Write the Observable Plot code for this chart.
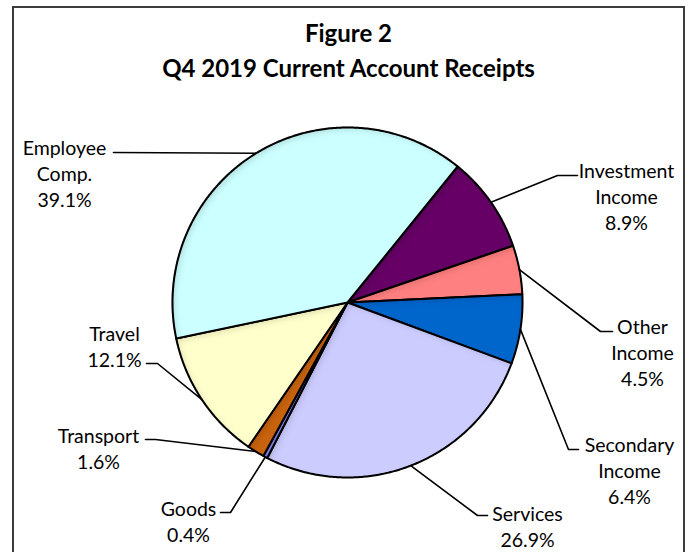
<!DOCTYPE html>
<html><head><meta charset="utf-8">
<script src="https://cdn.jsdelivr.net/npm/d3@7"></script>
<script src="https://cdn.jsdelivr.net/npm/@observablehq/plot@0.6"></script>
<style>
html,body{margin:0;padding:0;background:#fff;}
body{width:689px;height:552px;overflow:hidden;position:relative;font-family:Lato,"Open Sans",sans-serif;}
#box{position:absolute;left:12px;top:6px;width:673px;height:560px;border:2px solid #3c3c3c;border-bottom:none;box-sizing:border-box;}
#title{text-align:center;font-weight:bold;font-size:24px;line-height:35px;padding-top:7px;height:70px;color:#000;}
#chart svg{display:block;}
</style></head><body>
<div id="box"><div id="title">Figure 2<br>Q4 2019 Current Account Receipts</div><div id="chart"></div></div>
<script>
// ---- data ----
const categories = ["Investment Income","Other Income","Secondary Income","Services","Goods","Transport","Travel","Employee Comp."];
const labelText  = ["Investment\nIncome","Other\nIncome","Secondary\nIncome","Services","Goods","Transport","Travel","Employee\nComp."];
const shares     = [8.9, 4.5, 6.4, 26.9, 0.4, 1.6, 12.1, 39.1];
const colors     = ["#660066","#FF8080","#0066CC","#CCCCFF","#8585EE","#C86414","#FFFFCC","#CCFFFF"];
const startAngleDeg = 39;

// ---- layout (pixel offsets from pie centre, y down) ----
const W = 669, H = 467, R = 175, CX = 333, CY = 217;
const labelLayout = {
  "Investment Income": {elbow:[210,-127], tick:20,  text:[279,-107]},
  "Other Income":      {elbow:[253,29],   tick:12,  text:[295,49]},
  "Secondary Income":  {elbow:[221,147],  tick:10,  text:[282,167]},
  "Services":          {elbow:[130,213],  tick:10,  text:[180,223]},
  "Goods":             {elbow:[-117,210], tick:-10, text:[-159,218]},
  "Transport":         {elbow:[-192,137], tick:-10, text:[-249,145]},
  "Travel":            {elbow:[-190,61],  tick:-11, text:[-233,43]},
  "Employee Comp.":    {elbow:[-234,-150],tick:0,   text:[-283,-130]}
};
const u = ([dx, dy]) => [dx / R, -dy / R];

const a0 = startAngleDeg * Math.PI / 180;
const arcs = d3.pie().sort(null).value(d => d).startAngle(a0).endAngle(a0 + 2 * Math.PI)(shares);

const slicePts = [];
arcs.forEach((a, i) => {
  const name = categories[i];
  slicePts.push({name, x: 0, y: 0});
  const n = Math.max(2, Math.ceil((a.endAngle - a.startAngle) / 0.01));
  for (let k = 0; k <= n; k++) {
    const t = a.startAngle + (a.endAngle - a.startAngle) * k / n;
    slicePts.push({name, x: Math.sin(t), y: Math.cos(t)});
  }
  slicePts.push({name, x: 0, y: 0});
});

const leaderPts = [];
const labels = [];
arcs.forEach((a, i) => {
  const name = categories[i];
  const L = labelLayout[name];
  const mid = (a.startAngle + a.endAngle) / 2;
  const [ex, ey] = u(L.elbow);
  leaderPts.push({name, x: Math.sin(mid), y: Math.cos(mid)});
  leaderPts.push({name, x: ex, y: ey});
  if (L.tick) leaderPts.push({name, x: ex + L.tick / R, y: ey});
  const [tx, ty] = u(L.text);
  labels.push({x: tx, y: ty, text: labelText[i] + "\n" + shares[i].toFixed(1) + "%"});
});

const svg = Plot.plot({
  width: W, height: H,
  margin: 0,
  x: {domain: [-CX / R, (W - CX) / R], range: [0, W], axis: null},
  y: {domain: [-(H - CY) / R, CY / R], range: [H, 0], axis: null},
  color: {type: "ordinal", domain: categories, range: colors},
  style: {background: "transparent", overflow: "visible"},
  marks: [
    Plot.line(slicePts, {x: "x", y: "y", z: "name", fill: "name", stroke: "#000", strokeWidth: 2, strokeLinejoin: "round", ariaDescription: "slices"}),
    Plot.line(leaderPts, {x: "x", y: "y", z: "name", stroke: "#000", strokeWidth: 1.6}),
    Plot.text(labels, {x: "x", y: "y", text: "text", textAnchor: "middle", lineAnchor: "middle", lineHeight: 26 / 19.5, fontSize: 19.5, fill: "#000", fontFamily: "Lato, 'Open Sans', sans-serif"})
  ]
});

const ns = "http://www.w3.org/2000/svg";
const defs = document.createElementNS(ns, "defs");
defs.innerHTML = `<filter id="innershade" x="-5%" y="-5%" width="110%" height="110%">
  <feOffset in="SourceAlpha" dx="3" dy="3" result="off"/>
  <feGaussianBlur in="off" stdDeviation="3" result="blur"/>
  <feComposite in="SourceAlpha" in2="blur" operator="out" result="band"/>
  <feFlood flood-color="#000" flood-opacity="0.3"/>
  <feComposite in2="band" operator="in" result="shadow"/>
  <feMerge><feMergeNode in="SourceGraphic"/><feMergeNode in="shadow"/></feMerge>
</filter>`;
svg.insertBefore(defs, svg.firstChild);
svg.querySelectorAll('g[aria-description="slices"] path').forEach(p => p.setAttribute("filter", "url(#innershade)"));
document.getElementById("chart").appendChild(svg);
</script>
</body></html>
